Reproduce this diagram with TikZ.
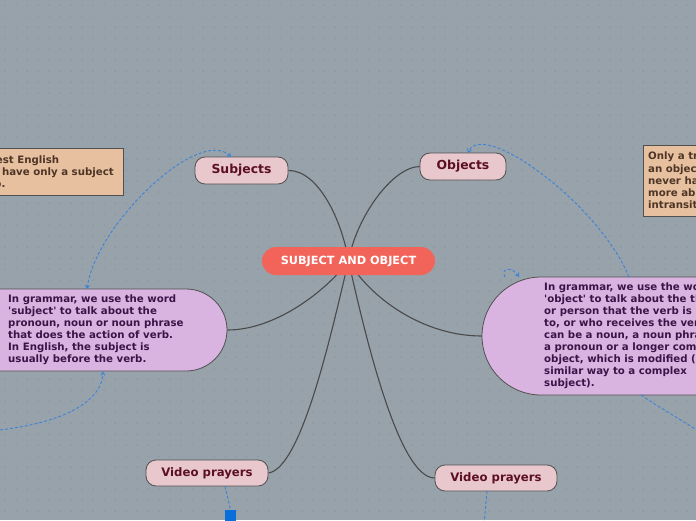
\documentclass[tikz,border=0pt]{standalone}
\usepackage{fontspec}
\setmainfont{DejaVu Sans}
\usetikzlibrary{arrows.meta}
\definecolor{bgc}{HTML}{98A2AB}
\definecolor{dotc}{HTML}{909AA4}
\definecolor{pinkc}{HTML}{E8C8CC}
\definecolor{pinkt}{HTML}{5C0F20}
\definecolor{purc}{HTML}{DAB4E0}
\definecolor{purt}{HTML}{3A1446}
\definecolor{tanc}{HTML}{E6C09F}
\definecolor{tant}{HTML}{4E3526}
\definecolor{redc}{HTML}{F2635A}
\definecolor{edgec}{HTML}{505050}
\definecolor{branchc}{HTML}{4A4A4A}
\definecolor{linkc}{HTML}{3B84D6}
\definecolor{sqc}{HTML}{0A6EDB}
\pgfdeclarelayer{back}
\pgfdeclarelayer{links}
\pgfsetlayers{back,links,main}
\tikzset{
  topic/.style={draw=edgec, line width=0.8pt, fill=pinkc, rounded corners=10pt,
    text=pinkt, font=\fontsize{12.4}{14}\selectfont\bfseries, inner sep=0pt},
  central/.style={fill=redc, rounded corners=14pt, text=white,
    font=\fontsize{11.3}{13}\selectfont\bfseries, inner sep=0pt,
    minimum width=173pt, minimum height=28pt},
  pillbox/.style={draw=edgec, line width=0.8pt, fill=purc, inner sep=0pt},
  notebox/.style={draw=edgec, line width=0.8pt, fill=tanc, inner sep=0pt},
  ptext/.style={text=purt, font=\fontsize{10.2}{12}\selectfont\bfseries, align=left, inner sep=0pt, anchor=west},
  ttext/.style={text=tant, font=\fontsize{10.2}{12.2}\selectfont\bfseries, align=left, inner sep=0pt, anchor=west},
  branch/.style={draw=branchc, line width=1.1pt},
  link/.style={draw=linkc, line width=0.9pt, dash pattern=on 3pt off 2pt},
  tip/.style={-{Straight Barb[length=3pt,width=4pt]}},
}
\begin{document}
\begin{tikzpicture}[x=1pt,y=-1pt]
\useasboundingbox (0,0) rectangle (696,520);
\begin{pgfonlayer}{back}
  \fill[bgc] (0,0) rectangle (696,520);
  \draw[dotc, line width=0.4pt]
    \foreach \i in {0,...,63} { \foreach \j in {0,...,47} {
      (\i*11+4,\j*11+5) -- ++(2,0) (\i*11+5,\j*11+4) -- ++(0,2) } };
\end{pgfonlayer}

% nodes
\node[central] (center) at (348.5,261) {SUBJECT AND OBJECT};
\node[topic, minimum width=93pt, minimum height=27pt] (sub) at (241.5,170.5) {Subjects};
\node[topic, minimum width=86pt, minimum height=27pt] (obj) at (463,166.5) {Objects};
\node[topic, minimum width=122pt, minimum height=26pt, font=\fontsize{11.7}{14}\selectfont\bfseries] (vl) at (207,473) {Video prayers};
\node[topic, minimum width=122pt, minimum height=26pt, font=\fontsize{11.7}{14}\selectfont\bfseries] (vr) at (496,478) {Video prayers};

\node[pillbox, rounded corners=41pt, minimum width=300pt, minimum height=82pt] (lp) at (77,330) {};
\node[ptext] (lpt) at (8,329.5) {In grammar, we use the word\\\textquotesingle subject\textquotesingle{} to talk about the\\pronoun, noun or noun phrase\\that does the action of verb.\\In English, the subject is\\usually before the verb.};

\node[pillbox, rounded corners=59pt, minimum width=318pt, minimum height=118pt] (rp) at (641,336) {};
\node[ptext] (rpt) at (544,336) {In grammar, we use the word\\\textquotesingle object\textquotesingle{} to talk about the thing\\or person that the verb is done\\to, or who receives the verb. It\\can be a noun, a noun phrase,\\a pronoun or a longer complex\\object, which is modified (in a\\similar way to a complex\\subject).};

\node[notebox, minimum width=188pt, minimum height=47pt] (ln) at (29,171.5) {};
\node[ttext] (lnt) at (-60,171.5) {The simplest English\\sentences have only a subject\\and a verb.};

\node[notebox, minimum width=160pt, minimum height=71pt] (rn) at (723,180.5) {};
\node[ttext] (rnt) at (648,180.5) {Only a transitive verb can have\\an object. Intransitive verbs\\never have an object. Read\\more about transitive and\\intransitive verbs.};

\fill[sqc] (225,510) rectangle (236,525);
\coordinate (sq) at (230.5,510);

% coordinates for links
\coordinate (lpA) at (87,289);
\coordinate (subA) at (231,157);
\coordinate (lpB) at (103,371.5);
\coordinate (offL) at (-10,431);
\coordinate (objA) at (468,153);
\coordinate (rpA) at (629,277);
\coordinate (rpL1) at (505,277);
\coordinate (rpL2) at (519,277);
\coordinate (rpB) at (641,395);
\coordinate (offR) at (706,436);
\coordinate (vlB) at (225,486);
\coordinate (vrB) at (487,491);
\coordinate (offB) at (484,525);

\begin{pgfonlayer}{links}
  \draw[branch] (sub.east) .. controls (318,170) and (342,220) .. (center.center);
  \draw[branch] (obj.west) .. controls (392,167) and (356,218) .. (center.center);
  \draw[branch] (lp.east) .. controls (275,330) and (325,292) .. (center.center);
  \draw[branch] (rp.west) .. controls (425,336) and (372,300) .. (center.center);
  \draw[branch] (vl.east) .. controls (302,468) and (332,330) .. (center.center);
  \draw[branch] (vr.west) .. controls (398,478) and (364,330) .. (center.center);
\end{pgfonlayer}

\draw[link, {Straight Barb[length=3pt,width=4pt]}-{Straight Barb[length=3pt,width=4pt]}] (lpA) .. controls (95,225) and (200,125) .. (subA);
\draw[link, tip] (offL) .. controls (55,425) and (102,405) .. (lpB);
\draw[link, tip] (rpA) .. controls (600,205) and (482,118) .. (objA);
\draw[link, tip] (rpL1) .. controls (500,268) and (512,266) .. (rpL2);
\draw[link] (rpB) .. controls (660,408) and (685,422) .. (offR);
\draw[link] (vlB) -- (sq);
\draw[link] (vrB) -- (offB);
\end{tikzpicture}
\end{document}
